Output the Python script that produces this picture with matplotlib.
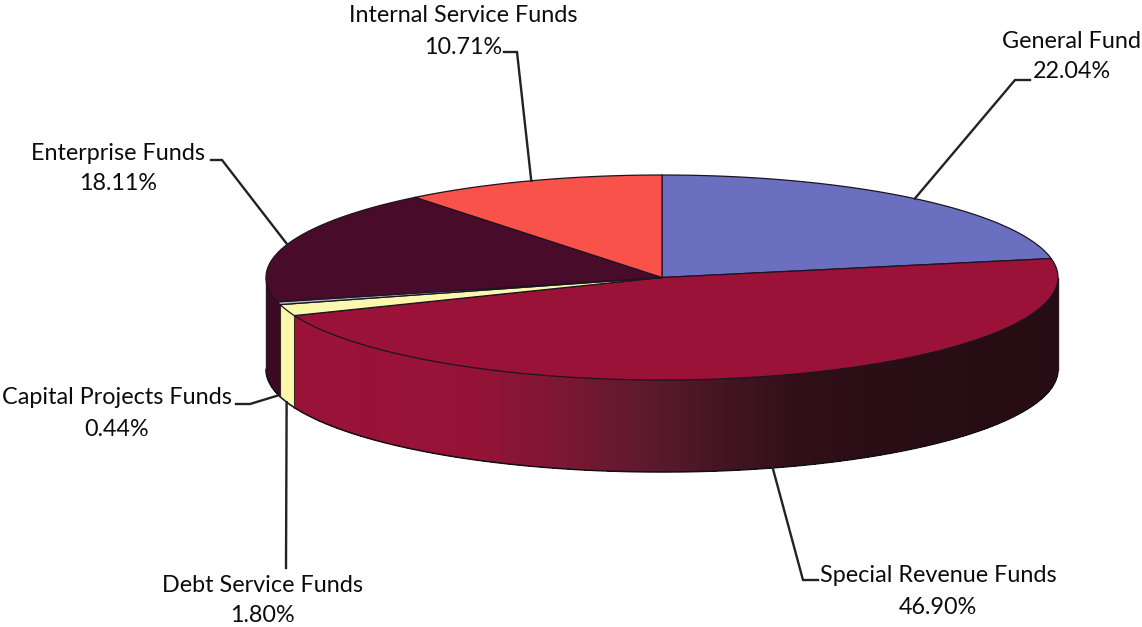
import numpy as np
import matplotlib
matplotlib.use("Agg")
import matplotlib.pyplot as plt
from matplotlib.collections import PolyCollection

# Share of total by fund type, clockwise from twelve o'clock
funds = ["General Fund", "Special Revenue Funds", "Debt Service Funds",
         "Capital Projects Funds", "Enterprise Funds", "Internal Service Funds"]
shares = [22.04, 46.90, 1.80, 0.44, 18.11, 10.71]
top_colors = ["#6a70bf", "#9a1238", "#fbf8ae", "#a8b6c6", "#490b2a", "#f8524a"]
side_colors = ["#4a4e86", "#9a1238", "#fbf8ae", "#3c0a22", "#3c0a22", "#b03a34"]

# Label centre x, first-line y, second-line y (pixels)
label_pos = [(1072, 41, 72), (938, 576, 607), (262, 585, 616),
             (117, 398, 429), (118, 153, 184), (463, 15, 47)]
# Leader line bend and end near each label (pixels)
leader_bend = [(1015, 80), (803, 580), (286, 568), (250, 404), (222, 160), (517, 52)]
leader_end = [(1030, 80), (818, 580), (286, 568), (236, 404), (211, 160), (504, 52)]

CX, CY, RX, RY, DEPTH = 662, 277.5, 396, 102.5, 92
plt.rcParams["font.family"] = ["Lato", "DejaVu Sans"]

fig = plt.figure(figsize=(11.42, 6.27), dpi=100)
ax = fig.add_axes([0, 0, 1, 1])
ax.set_xlim(0, 1142)
ax.set_ylim(627, 0)
ax.axis("off")


def rim(deg, drop=0.0):
    a = np.radians(deg)
    return CX + RX * np.cos(a), CY - RY * np.sin(a) + drop


def shade(x):
    # Lighting across the curved wall of the largest slice
    stops = [290, 470, 560, 640, 720, 800, 880, 1060]
    r = [0x9a, 0x96, 0x7c, 0x5e, 0x44, 0x30, 0x2a, 0x26]
    g = [0x12, 0x13, 0x17, 0x1a, 0x15, 0x0f, 0x0d, 0x0c]
    b = [0x38, 0x37, 0x33, 0x2e, 0x22, 0x18, 0x15, 0x14]
    return (np.interp(x, stops, r) / 255, np.interp(x, stops, g) / 255,
            np.interp(x, stops, b) / 255)


edges = 90 - 3.6 * np.concatenate([[0], np.cumsum(shares)])
spans = list(zip(edges[:-1], edges[1:]))

# Walls: back-to-front so the nearest slice overlaps the others
for i in [4, 3, 2, 1]:
    hi, lo = spans[i]
    t = np.linspace(hi, lo, 400)
    if i == 1:
        t = t[t <= 0]
    if i == 4:
        t = t[t >= -180]
    x, y = rim(t)
    quads = [[(x[k], y[k]), (x[k + 1], y[k + 1]),
              (x[k + 1], y[k + 1] + DEPTH), (x[k], y[k] + DEPTH)]
             for k in range(len(t) - 1)]
    if i == 1:
        cols = [shade(0.5 * (x[k] + x[k + 1])) for k in range(len(t) - 1)]
    else:
        cols = [side_colors[i]] * (len(t) - 1)
    ax.add_collection(PolyCollection(quads, facecolors=cols, edgecolors="none",
                                     antialiaseds=False, zorder=2 + (4 - i) * 0.1))
    ax.plot(x, y + DEPTH, color="#151015", lw=1.1, zorder=3)
    if i in (1, 2):
        ax.plot([x[-1], x[-1]], [y[-1], y[-1] + DEPTH], color="#3a2a20", lw=0.8, zorder=3)

# Left and right silhouette of the disc
for deg in (-180, 0):
    x0, y0 = rim(deg)
    ax.plot([x0, x0], [y0, y0 + DEPTH], color="#2a1a22", lw=1.0, zorder=3)

# Top faces
for i, (hi, lo) in enumerate(spans):
    t = np.linspace(hi, lo, 200)
    x, y = rim(t)
    ax.fill(np.r_[CX, x], np.r_[CY, y], facecolor=top_colors[i],
            edgecolor="#1d1420", lw=0.9, joinstyle="round", zorder=4)

# Labels with their leader lines, anchored on each slice's middle
for i, name in enumerate(funds):
    mid = 0.5 * (spans[i][0] + spans[i][1])
    on_front = np.sin(np.radians(mid)) < 0
    ax_, ay_ = rim(mid, DEPTH if on_front else 0)
    bx, by = leader_bend[i]
    ex, ey = leader_end[i]
    ax.plot([ax_, bx, ex], [ay_, by, ey], color="#222222", lw=1.7,
            solid_joinstyle="miter", zorder=5)
    lx, y1, y2 = label_pos[i]
    ax.text(lx, y1, name, ha="center", va="center", fontsize=16.8, color="#0c0c0c")
    ax.text(lx, y2, f"{shares[i]:.2f}%", ha="center", va="center", fontsize=16.8, color="#0c0c0c")

fig.savefig("out.png", dpi=100, facecolor="white")
